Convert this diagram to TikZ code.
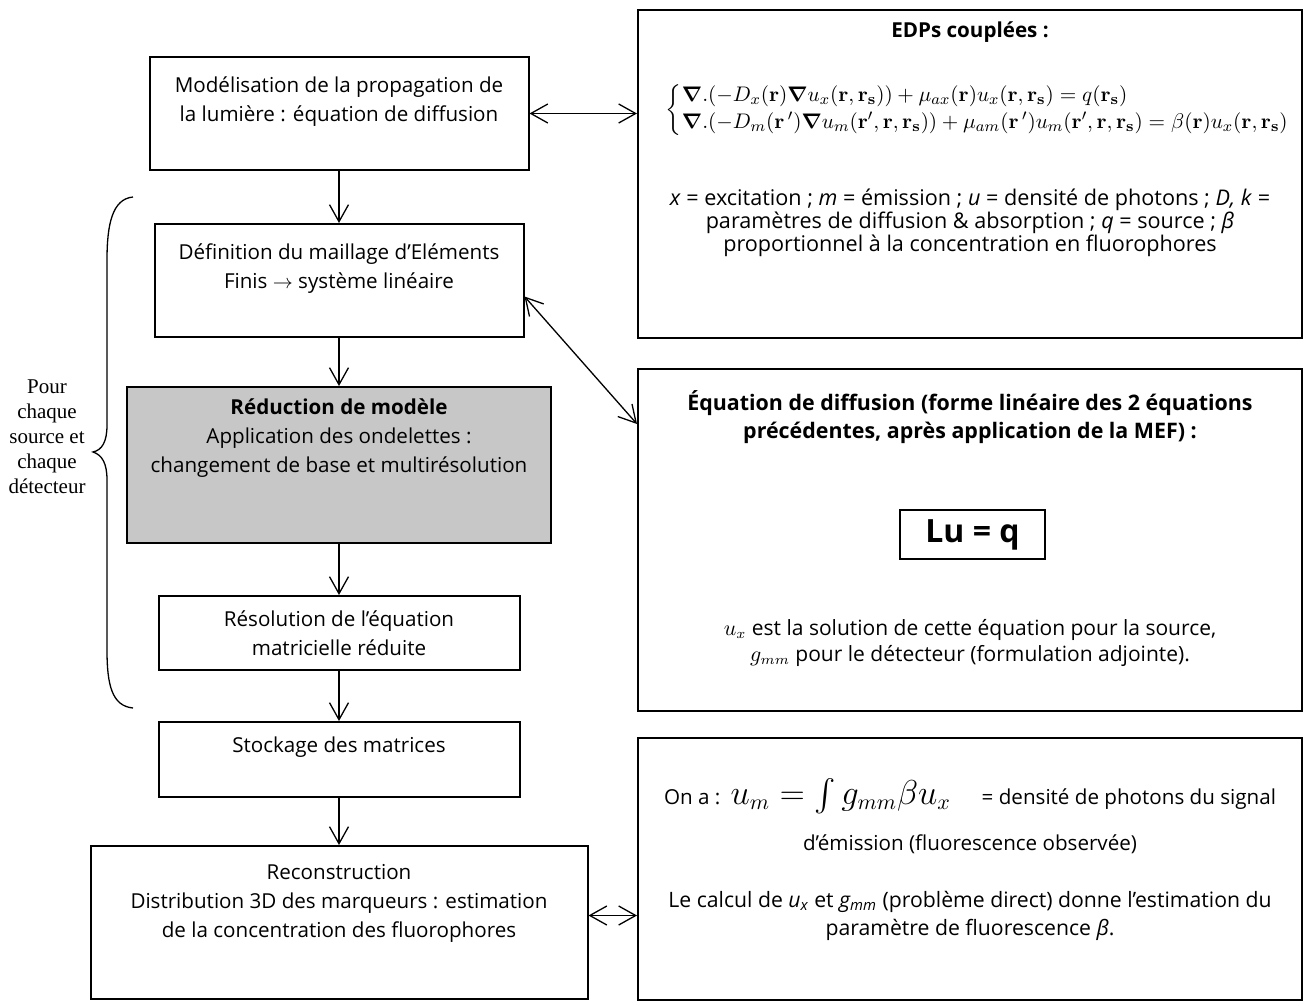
\documentclass[tikz,border=0pt]{standalone}
\usepackage{amsmath,amssymb}
\usepackage{graphicx}
\usepackage[no-math]{fontspec}
\setmainfont{Open Sans}
\newfontfamily\timesfont{Liberation Serif}
\usetikzlibrary{arrows.meta,calc}

\tikzset{
  box/.style={draw, line width=1pt, align=center, inner sep=0pt},
  txt/.style={align=center, inner sep=0pt},
  flow/.style={-{Straight Barb[length=8.5pt,width=9.5pt]}, line width=0.65pt},
  both/.style={{Straight Barb[length=8.5pt,width=9.5pt]}-{Straight Barb[length=8.5pt,width=9.5pt]}, line width=0.65pt}
}
\newcommand{\bodyfont}{\fontsize{10.3}{14.5}\selectfont}

\begin{document}
\begin{tikzpicture}[x=0.5pt, y=-0.5pt, font=\bodyfont]
		\useasboundingbox (0,0) rectangle (1304,1005);
		
		% left column: steps
		\node[box, minimum width=189.5pt, minimum height=56.5pt] (b1) at (339,113.5)
		{Modélisation de la propagation de\\la lumière : équation de diffusion\\~};
		\node[box, minimum width=184.5pt, minimum height=56.5pt] (b2) at (339,280.5)
		{Définition du maillage d'Eléments\\Finis $\rightarrow$ système linéaire\\~};
		\node[box, fill=black!22, minimum width=212pt, minimum height=78pt] (b3) at (339,465)
		{\textbf{Réduction de modèle}\\Application des ondelettes :\\changement de base et multirésolution\\~\\~};
		\node[box, minimum width=180.5pt, minimum height=37pt] (b4) at (339,633)
		{Résolution de l'équation\\matricielle réduite};
		\node[box, minimum width=180.5pt, minimum height=37.5pt] (b5) at (339,759.5)
		{Stockage des matrices\\~};
		\node[box, minimum width=248.5pt, minimum height=76.5pt] (b6) at (339,922.5)
		{Reconstruction\\Distribution 3D des marqueurs : estimation\\de la concentration des fluorophores\\[7pt]~};
		
		% flow between steps
		\draw[flow] (b1) -- (b2);
		\draw[flow] (b2) -- (b3);
		\draw[flow] (b3) -- (b4);
		\draw[flow] (b4) -- (b5);
		\draw[flow] (b5) -- (b6);
		
		% loop brace
		\draw[line width=0.65pt] (133,197) .. controls (112,199) and (107,225) .. (107,260)
		-- (107,425) .. controls (107,442) and (102,450) .. (93,452)
		.. controls (102,455) and (107,463) .. (107,480)
		-- (107,650) .. controls (107,685) and (112,706) .. (133,708);
		\node[txt, font=\timesfont\fontsize{10.5}{12.5}\selectfont] (loop) at (47,437)
		{Pour\\chaque\\source et\\chaque\\détecteur};
		
		% right column: details
		\node[box, minimum width=332pt, minimum height=164pt] (r1) at (970,174) {};
		\node[box, minimum width=332pt, minimum height=171pt] (r2) at (970,540) {};
		\node[box, minimum width=332pt, minimum height=131pt] (r3) at (970,869) {};
		
		% coupled PDEs
		\node[txt, font=\bodyfont\bfseries] (edptitle) at (970,32) {EDPs couplées :};
		\node[txt, font=\fontsize{11}{13}\selectfont] (edpsys) at (978,110)
		{\resizebox*{312pt}{26pt}{$\left\{\begin{array}{@{}l@{}}
		\boldsymbol{\nabla}.(-D_x(\mathbf{r})\boldsymbol{\nabla}u_x(\mathbf{r},\mathbf{r}_\mathbf{s}))+\mu_{ax}(\mathbf{r})u_x(\mathbf{r},\mathbf{r}_\mathbf{s})=q(\mathbf{r}_\mathbf{s})\\[1pt]
		\boldsymbol{\nabla}.(-D_m(\mathbf{r}\,')\boldsymbol{\nabla}u_m(\mathbf{r}',\mathbf{r},\mathbf{r}_\mathbf{s}))+\mu_{am}(\mathbf{r}\,')u_m(\mathbf{r}',\mathbf{r},\mathbf{r}_\mathbf{s})=\beta(\mathbf{r})u_x(\mathbf{r},\mathbf{r}_\mathbf{s})
		\end{array}\right.$}};
		\node[txt, font=\fontsize{10.8}{11.5}\selectfont] (edpnote) at (970,223)
		{\textit{x} = excitation ; \textit{m} = émission ; \textit{u} = densité de photons ; \textit{D, k} =\\
		paramètres de diffusion \& absorption ; \textit{q} = source ; \textit{β}\\
		proportionnel à la concentration en fluorophores};
		
		% linear system
		\node[txt, font=\fontsize{10.7}{14}\selectfont\bfseries] (lutitle) at (970,417)
		{Équation de diffusion (forme linéaire des 2 équations\\précédentes, après application de la MEF) :};
		\node[draw, line width=1pt, minimum width=72.5pt, minimum height=24.5pt,
		font=\fontsize{16}{18}\selectfont\bfseries] (lu) at (972.5,534.5) {Lu = q};
		\node[txt, font=\fontsize{10.5}{13}\selectfont] (lunote) at (970,643)
		{$u_x$ est la solution de cette équation pour la source,\\$g_{mm}$ pour le détecteur (formulation adjointe).};
		
		% emission signal
		\node[txt] (ona) at (970,796)
		{On a :\enspace{\fontsize{16}{16}\selectfont$u_m=\int g_{mm}\beta u_x$}\quad\enspace= densité de photons du signal};
		\node[txt] (emis) at (970,844) {d'émission (fluorescence observée)};
		\node[txt, font=\fontsize{10.6}{14}\selectfont] (calc) at (970,916)
		{Le calcul de \textit{u\textsubscript{x}} et \textit{g\textsubscript{mm}} (problème direct) donne l'estimation du\\paramètre de fluorescence \textit{β}.};
		
		% links to details
		\draw[both] (b1.east) -- (b1.east -| r1.west);
		\draw[both] ($(b2.east)+(0,16)$) -- ($(r2.west)+(0,-116)$);
		\draw[both] ($(b6.east)+(0,-7)$) -- ($(b6.east -| r3.west)+(0,-7)$);
		
	\end{tikzpicture}
\end{document}
